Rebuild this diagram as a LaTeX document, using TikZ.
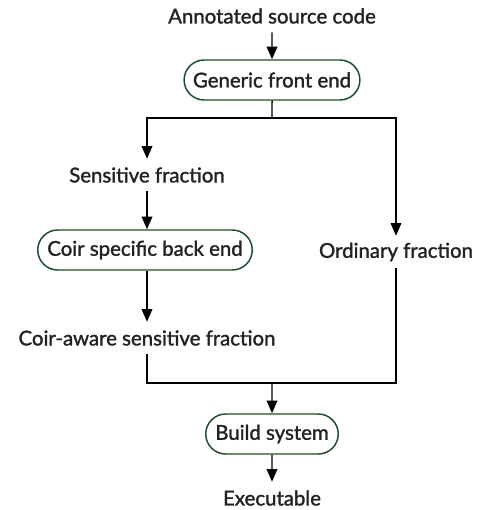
\documentclass[tikz,border=0pt]{standalone}
\usepackage{fontspec}
\setmainfont{Lato}[UprightFeatures={FakeBold=1.5}]
\usetikzlibrary{arrows.meta,shapes.misc}
\definecolor{boxgreen}{HTML}{1E4D2B}
\definecolor{txt}{HTML}{222222}
\begin{document}
\begin{tikzpicture}[x=0.75pt,y=-0.75pt,
  every node/.style={font=\fontsize{15.3pt}{17pt}\selectfont, text=txt},
  proc/.style={draw=boxgreen, line width=1.1pt, rounded rectangle, minimum height=30pt, inner xsep=5.5pt},
  lbl/.style={inner sep=0pt, minimum height=24pt},
  conn/.style={line width=1.1pt, draw=black},
  arr/.style={conn, -{Triangle[length=9.5pt,width=8pt]}}]
\useasboundingbox (0,0) rectangle (479,510);
\node[lbl] (ann) at (272,16) {Annotated source code};
\node[proc] (fe) at (272,80) {Generic front end};
\node[lbl] (sens) at (147,175) {Sensitive fraction};
\node[proc] (cb) at (145,250) {Coir specific back end};
\node[lbl] (caware) at (147,338) {Coir-aware sensitive fraction};
\node[lbl] (ord) at (396,252) {Ordinary fraction};
\node[proc] (bs) at (272,434) {Build system};
\node[lbl] (exe) at (272,498) {Executable};
\coordinate (split) at (272,118);
\coordinate (join) at (272,383);
\draw[arr] (ann) -- (fe);
\draw[conn] (fe) -- (split);
\draw[arr] (split) -| (sens);
\draw[arr] (split) -| (ord);
\draw[arr] (sens) -- (sens |- cb.north);
\draw[arr] (cb.south -| caware) -- (caware);
\draw[conn] (caware) |- (join);
\draw[conn] (ord) |- (join);
\draw[arr] (join) -- (bs);
\draw[arr] (bs) -- (exe);
\end{tikzpicture}
\end{document}
